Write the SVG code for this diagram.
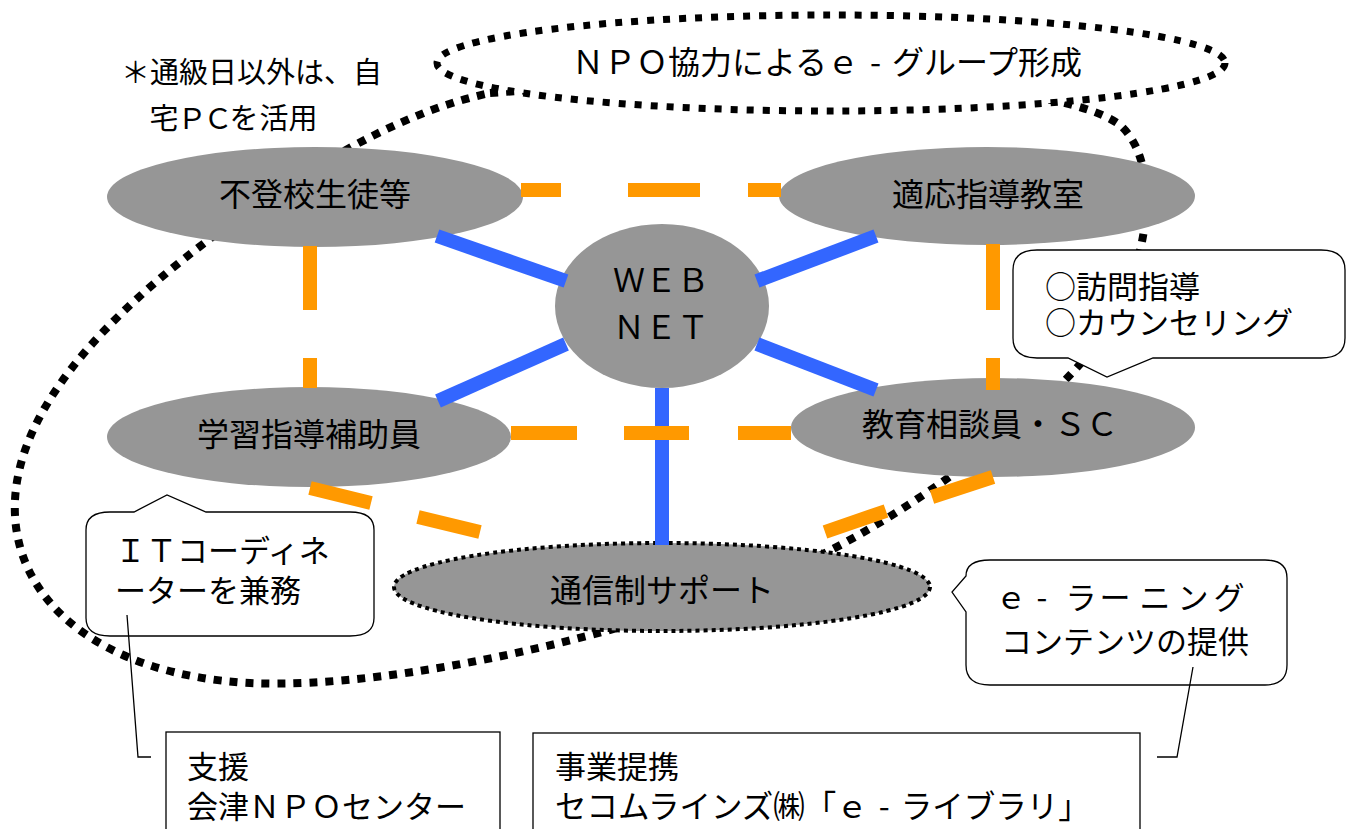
<svg xmlns="http://www.w3.org/2000/svg" width="1347" height="829" viewBox="0 0 1347 829">
<style>
  .t { font-family: "Noto Sans CJK JP", "Noto Sans", sans-serif; fill: #000; }
  .node { fill: #969696; }
  .blue { stroke: #3366ff; stroke-width: 14; fill: none; }
  .orange { stroke: #ff9900; stroke-width: 14; fill: none; }
  .thin { stroke: #000; stroke-width: 1.3; fill: none; }
  .callout { fill: #fff; stroke: #000; stroke-width: 1.3; }
  .box { fill: #fff; stroke: #000; stroke-width: 1.3; }
</style>
<rect width="1347" height="829" fill="#fff"/>

<g id="note">
  <text class="t" x="121" y="83" font-size="29">＊通級日以外は、自</text>
  <text class="t" font-size="29" y="129" x="164 192 218 244 274 303" text-anchor="middle">宅ＰＣを活用</text>
</g>

<g id="group-boundary">
  <path d="M490,93 C800,70 1060,80 1120,125 C1160,160 1155,260 1100,340 C1040,420 900,520 800,565 C650,630 400,690 250,683 C100,675 10,600 15,500 C20,400 120,300 250,210 C330,155 410,110 490,93 Z" fill="none" stroke="#000" stroke-width="8" stroke-dasharray="8 8"/>
</g>

<g id="node-futoko">
  <ellipse class="node" cx="315" cy="197" rx="208" ry="50"/>
  <text class="t" x="315" y="206" font-size="32" text-anchor="middle">不登校生徒等</text>
</g>
<g id="node-tekiou">
  <ellipse class="node" cx="987" cy="196" rx="208" ry="49"/>
  <text class="t" x="988" y="206" font-size="32" text-anchor="middle">適応指導教室</text>
</g>
<g id="node-webnet">
  <ellipse class="node" cx="662" cy="306" rx="107" ry="82"/>
  <text class="t" x="661" y="292" font-size="32" text-anchor="middle">ＷＥＢ</text>
  <text class="t" x="661" y="339" font-size="32" text-anchor="middle">ＮＥＴ</text>
</g>
<g id="node-gakushu">
  <ellipse class="node" cx="309" cy="437" rx="202" ry="50"/>
  <text class="t" x="309" y="446" font-size="32" text-anchor="middle">学習指導補助員</text>
</g>
<g id="node-kyoiku">
  <ellipse class="node" cx="993" cy="427.5" rx="202" ry="49.5"/>
  <text class="t" x="990" y="436" font-size="32" text-anchor="middle">教育相談員・ＳＣ</text>
</g>
<g id="node-tsushin">
  <ellipse class="node" cx="662" cy="587" rx="268" ry="44" stroke="#000" stroke-width="4" stroke-dasharray="4 4"/>
  <text class="t" x="662" y="602" font-size="32" text-anchor="middle">通信制サポート</text>
</g>

<g id="connectors">
  <line class="blue" x1="437" y1="236" x2="566" y2="281"/>
  <line class="blue" x1="757" y1="281" x2="876" y2="236"/>
  <line class="blue" x1="438" y1="401" x2="566" y2="344"/>
  <line class="blue" x1="757" y1="344" x2="876" y2="390"/>
  <line class="blue" x1="662" y1="388" x2="662" y2="545"/>
  <path class="orange" d="M521,190 H561 M628,190 H700 M748,190 H781"/>
  <path class="orange" d="M310,246 V310 M310,358 V388"/>
  <path class="orange" d="M993,244 V310 M993,358 V390"/>
  <path class="orange" d="M511,433 H577 M624,433 H689 M738,433 H791"/>
  <path class="orange" d="M310,488 L371,503 M418,517 L480,532"/>
  <path class="orange" d="M825,532 L886,511 M932,497 L993,477"/>
</g>

<g id="title-group">
  <ellipse cx="831" cy="63" rx="394" ry="48" fill="#fff" stroke="#000" stroke-width="7" stroke-dasharray="7 9"/>
  <text class="t" x="827" y="74" font-size="32" text-anchor="middle">ＮＰＯ協力によるｅ<tspan dx="11">-</tspan><tspan dx="11">グループ形成</tspan></text>
</g>

<g id="callout-houmon">
  <path class="callout" d="M1037,250 H1321 Q1345,250 1345,270 V338 Q1345,358 1321,358 H1153 L1107,377 L1068,358 H1037 Q1013,358 1013,338 V270 Q1013,250 1037,250 Z"/>
  <text class="t" x="1045" y="298" font-size="31">○訪問指導</text>
  <text class="t" x="1045" y="334" font-size="31">○カウンセリング</text>
</g>

<g id="callout-it">
  <path class="callout" d="M110,512 H134 L167,495 L206,512 H350 Q374,512 374,530 V618 Q374,636 350,636 H110 Q86,636 86,618 V530 Q86,512 110,512 Z"/>
  <text class="t" x="115" y="562" font-size="31">ＩＴコーディネ</text>
  <text class="t" x="115" y="602" font-size="31">ーターを兼務</text>
</g>

<g id="callout-elearning">
  <path class="callout" d="M990,560 H1265 Q1287,560 1287,578 V665 Q1287,685 1265,685 H990 Q966,685 966,665 V612 L952,592 L966,576 Q966,560 990,560 Z"/>
  <text class="t" font-size="31" y="609" x="1011 1042 1081 1115 1155 1193 1229" text-anchor="middle">ｅ-ラーニング</text>
  <text class="t" x="1125" y="653" font-size="31" text-anchor="middle">コンテンツの提供</text>
</g>

<g id="box-npo">
  <rect class="box" x="166" y="732" width="334" height="120"/>
  <text class="t" x="187" y="778" font-size="31">支援</text>
  <text class="t" x="187" y="818" font-size="31">会津ＮＰＯセンター</text>
</g>

<g id="box-secom">
  <rect class="box" x="533" y="733" width="607" height="120"/>
  <text class="t" x="555" y="778" font-size="31">事業提携</text>
  <text class="t" x="555" y="818" font-size="31.5">セコムラインズ㈱「ｅ<tspan dx="11">-</tspan><tspan dx="11">ライブラリ」</tspan></text>
</g>

<g id="callout-links">
  <polyline class="thin" points="127,615 138,757 151,757"/>
  <polyline class="thin" points="1193,667 1177,757 1157,757"/>
</g>
</svg>
